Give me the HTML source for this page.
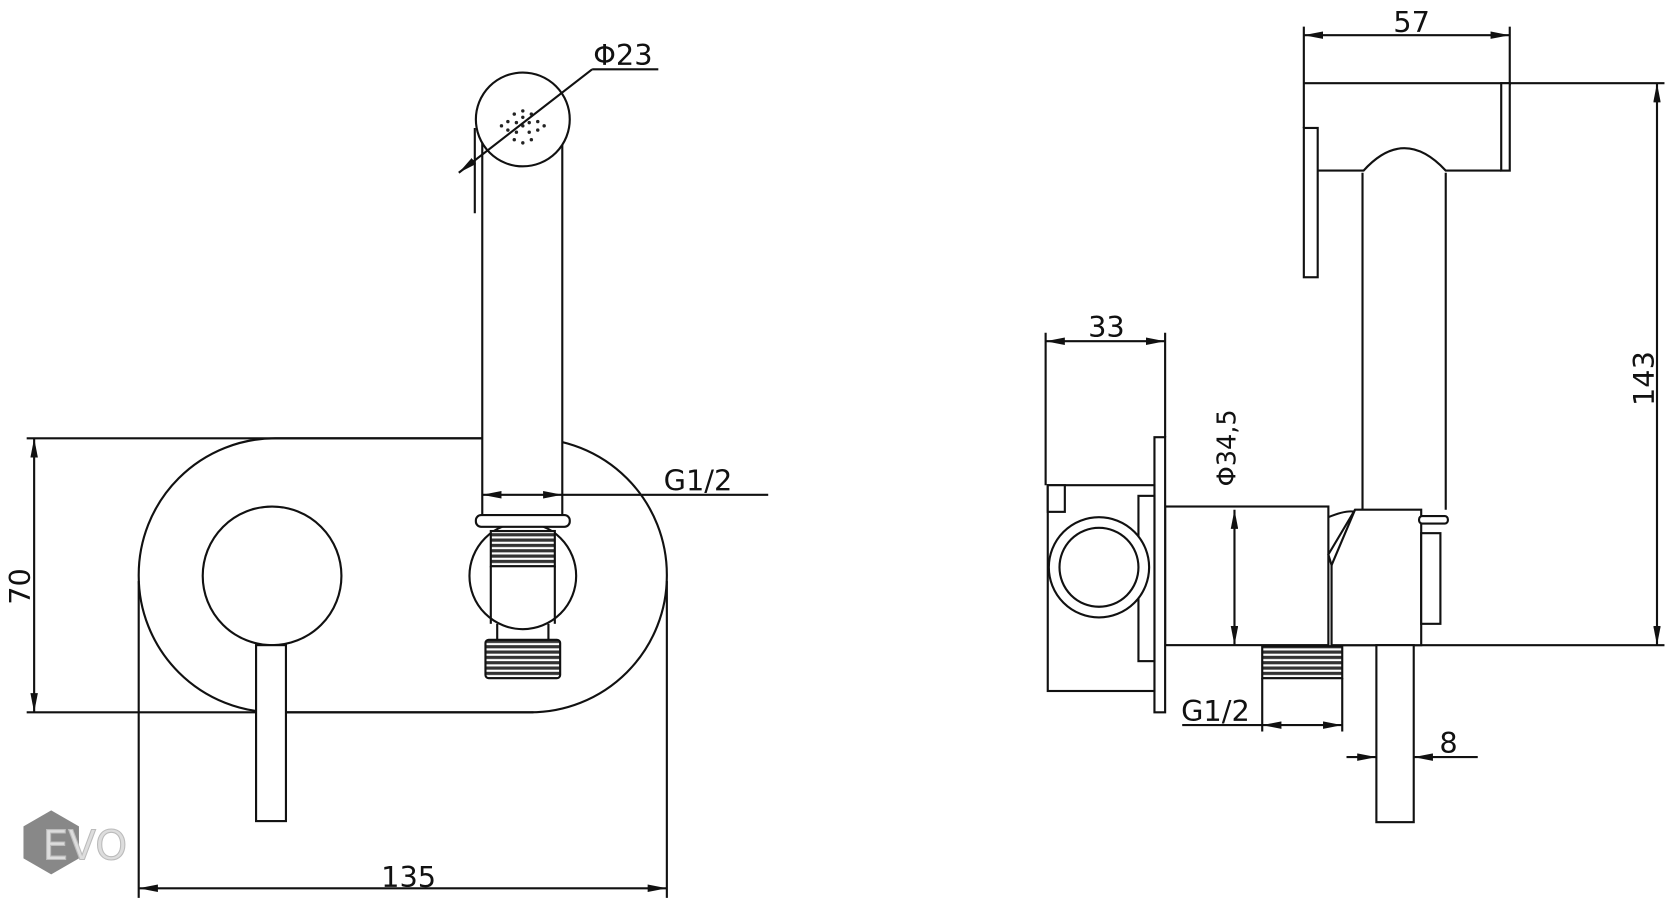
<!DOCTYPE html>
<html><head><meta charset="utf-8"><style>
html,body{margin:0;padding:0;background:#fff;}
svg{display:block;}
text{font-family:"DejaVu Sans","Liberation Sans",sans-serif;fill:#111;}
</style></head><body>
<svg width="1673" height="900" viewBox="0 0 1568 844" preserveAspectRatio="none" xmlns="http://www.w3.org/2000/svg">
<defs>
<marker id="a" viewBox="0 0 18 7" refX="18" refY="3.5" markerWidth="18" markerHeight="7" orient="auto-start-reverse" markerUnits="userSpaceOnUse"><path d="M0,0L18,3.5L0,7z" fill="#111"/></marker>
<pattern id="th" width="6" height="5" patternUnits="userSpaceOnUse"><rect width="6" height="5" fill="#fff"/><rect y="0" width="6" height="3" fill="#333"/></pattern>
</defs>
<g fill="none" stroke="#111" stroke-width="2">
<!-- LEFT VIEW -->
<rect x="130" y="411" width="495" height="257" rx="128" ry="128" fill="#fff"/>
<line x1="25" y1="411" x2="452" y2="411"/>
<line x1="25" y1="668" x2="500" y2="668"/>
<line x1="130" y1="545" x2="130" y2="842"/>
<line x1="625" y1="545" x2="625" y2="842"/>
<line x1="32" y1="411" x2="32" y2="668" marker-start="url(#a)" marker-end="url(#a)"/>
<line x1="130" y1="833" x2="625" y2="833" marker-start="url(#a)" marker-end="url(#a)"/>
<circle cx="255" cy="540" r="65"/>
<rect x="240" y="605" width="28" height="165" fill="#fff"/>
<!-- hose -->
<rect x="452" y="130" width="75" height="356" fill="#fff"/>
<line x1="445" y1="120" x2="445" y2="200"/>
<circle cx="490" cy="112" r="44" fill="#fff"/>
<g fill="#222" stroke="none">
<circle cx="490" cy="104" r="1.6"/><circle cx="482" cy="107" r="1.6"/><circle cx="498" cy="107" r="1.6"/>
<circle cx="476" cy="114" r="1.6"/><circle cx="504" cy="114" r="1.6"/><circle cx="484" cy="115" r="1.6"/><circle cx="496" cy="115" r="1.6"/>
<circle cx="490" cy="118" r="1.6"/><circle cx="476" cy="122" r="1.6"/><circle cx="504" cy="122" r="1.6"/>
<circle cx="484" cy="124" r="1.6"/><circle cx="496" cy="124" r="1.6"/><circle cx="482" cy="131" r="1.6"/><circle cx="498" cy="131" r="1.6"/><circle cx="490" cy="134" r="1.6"/>
<circle cx="490" cy="110" r="1.6"/><circle cx="470" cy="118" r="1.6"/><circle cx="510" cy="118" r="1.6"/>
</g>
<line x1="430" y1="162" x2="555" y2="65" marker-start="url(#a)"/>
<line x1="555" y1="65" x2="617" y2="65"/>
<line x1="452" y1="464" x2="527" y2="464" marker-start="url(#a)" marker-end="url(#a)"/>
<line x1="527" y1="464" x2="720" y2="464"/>
<circle cx="490" cy="540" r="50" fill="#fff"/>
<rect x="446" y="483" width="88" height="11" rx="5" fill="#fff"/>
<rect x="460" y="498" width="60" height="33" fill="url(#th)"/>
<line x1="460" y1="531" x2="460" y2="585"/><line x1="520" y1="531" x2="520" y2="585"/>
<line x1="466" y1="585" x2="466" y2="600"/><line x1="514" y1="585" x2="514" y2="600"/>
<rect x="455" y="600" width="70" height="36" rx="3" fill="url(#th)"/>
<!-- RIGHT VIEW -->
<line x1="1222" y1="33" x2="1415" y2="33" marker-start="url(#a)" marker-end="url(#a)"/>
<line x1="1222" y1="25" x2="1222" y2="120"/>
<line x1="1415" y1="25" x2="1415" y2="80"/>
<line x1="1222" y1="78" x2="1560" y2="78"/>
<rect x="1407" y="78" width="8" height="82" fill="#fff"/>
<path d="M1235,160 H1278 Q1316,118 1355,160 H1407"/>
<rect x="1222" y="120" width="13" height="140" fill="#fff"/>
<line x1="1277" y1="162" x2="1277" y2="478"/><line x1="1355" y1="162" x2="1355" y2="478"/>
<line x1="1553" y1="78" x2="1553" y2="605" marker-start="url(#a)" marker-end="url(#a)"/>
<line x1="1258" y1="605" x2="1560" y2="605"/>
<!-- body -->
<rect x="1092" y="475" width="153" height="130" fill="#fff"/>
<rect x="1082" y="410" width="10" height="258" fill="#fff"/>
<rect x="982" y="455" width="100" height="193" fill="#fff"/>
<rect x="982" y="455" width="16" height="25" fill="#fff"/>
<rect x="1067" y="465" width="15" height="155" fill="#fff"/>
<circle cx="1030" cy="532" r="47" fill="#fff"/>
<circle cx="1030" cy="532" r="37"/>
<path d="M1245,485 Q1262,478 1270,480"/>
<path d="M1270,478 H1332 V605 H1248 V530 L1245,520 Z" fill="#fff"/>
<path d="M1248,530 L1270,478"/>
<rect x="1332" y="500" width="18" height="85" fill="#fff"/>
<rect x="1330" y="484" width="27" height="7" rx="3" fill="#fff"/>
<rect x="1183" y="606" width="75" height="30" fill="url(#th)"/>
<rect x="1290" y="605" width="35" height="166" fill="#fff"/>
<line x1="980" y1="320" x2="1092" y2="320" marker-start="url(#a)" marker-end="url(#a)"/>
<line x1="980" y1="312" x2="980" y2="455"/><line x1="1092" y1="312" x2="1092" y2="410"/>
<line x1="1157" y1="478" x2="1157" y2="605" marker-start="url(#a)" marker-end="url(#a)"/>
<line x1="1183" y1="636" x2="1183" y2="686"/><line x1="1258" y1="636" x2="1258" y2="686"/>
<line x1="1183" y1="680" x2="1258" y2="680" marker-start="url(#a)" marker-end="url(#a)"/>
<line x1="1108" y1="680" x2="1183" y2="680"/>
<line x1="1262" y1="710" x2="1290" y2="710" marker-end="url(#a)"/>
<line x1="1325" y1="710" x2="1385" y2="710" marker-start="url(#a)"/>
</g>
<g font-size="27">
<text x="383" y="832" text-anchor="middle">135</text>
<text x="42" y="550" text-anchor="middle" transform="rotate(-90 42 550)" dy="-14">70</text>
<text x="556" y="61">Φ23</text>
<text x="622" y="460">G1/2</text>
<text x="1323" y="30" text-anchor="middle">57</text>
<text x="1037" y="316" text-anchor="middle">33</text>
<text x="1107" y="676">G1/2</text>
<text x="1349" y="706">8</text>
<text x="1550" y="355" text-anchor="middle" transform="rotate(-90 1550 355)">143</text>
<text x="1158" y="420" text-anchor="middle" transform="rotate(-90 1158 420)" font-size="24">Φ34,5</text>
</g>
<polygon points="48,760 74,775 74,805 48,820 22,805 22,775" fill="#888"/>
<text x="40" y="806" font-size="38" style="fill:#ddd;stroke:#bbb;stroke-width:1">EVO</text>
</svg>
</body></html>
